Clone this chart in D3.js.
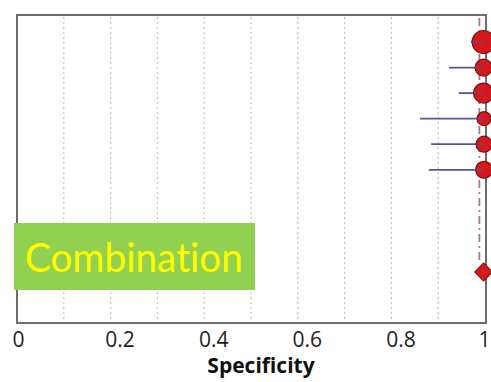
<!DOCTYPE html>
<html>
<head>
<meta charset="utf-8">
<script src="https://cdn.jsdelivr.net/npm/d3@7"></script>
<style>
  html, body { margin: 0; padding: 0; background: #fff; }
  svg { display: block; }
</style>
</head>
<body>
<svg id="chart" width="491" height="382"></svg>
<script>
// Study-level specificity estimates with 95% CI and study weight (%)
const studies = ["Study 1", "Study 2", "Study 3", "Study 4", "Study 5", "Study 6"];
const specificity = [0.997, 0.997, 0.997, 0.998, 0.998, 0.998];
const ciLower = [0.970, 0.923, 0.944, 0.861, 0.885, 0.880];
const ciUpper = [1.0, 1.0, 1.0, 1.0, 1.0, 1.0];
const weights = [27.0, 14.7, 20.4, 10.0, 13.1, 14.7];

// Pooled estimate and reference line
const pooledSpecificity = 0.997;
const summaryLine = 0.988;
const pooledRow = 9;

const xTicks = [0, 0.2, 0.4, 0.6, 0.8, 1];
const gridValues = [0.1, 0.2, 0.3, 0.4, 0.5, 0.6, 0.7, 0.8, 0.9];
const xTitle = "Specificity";
const panelLabel = "Combination";

const svg = d3.select("#chart");
const plot = { left: 17, right: 486, top: 15, bottom: 323 };

const x = d3.scaleLinear().domain([0, 1]).range([17, 485]);
const y = d3.scaleLinear().domain([0, pooledRow]).range([42, 272]);
const r = d3.scaleSqrt().domain([0, 27]).range([0, 11.5]);

// Dotted vertical gridlines
svg.append("g")
  .selectAll("line")
  .data(gridValues)
  .join("line")
  .attr("x1", d => x(d)).attr("x2", d => x(d))
  .attr("y1", plot.top + 2).attr("y2", plot.bottom - 2)
  .attr("stroke", "#c4c4c4")
  .attr("stroke-width", 1.2)
  .attr("stroke-dasharray", "2,3");

// Plot frame
svg.append("rect")
  .attr("x", plot.left).attr("y", plot.top)
  .attr("width", plot.right - plot.left)
  .attr("height", plot.bottom - plot.top)
  .attr("fill", "none")
  .attr("stroke", "#6e6e6e")
  .attr("stroke-width", 2);

// Pooled reference line (dash-dot)
svg.append("line")
  .attr("x1", x(summaryLine)).attr("x2", x(summaryLine))
  .attr("y1", plot.top + 3).attr("y2", y(pooledRow) - 9)
  .attr("stroke", "#a07a98")
  .attr("stroke-width", 1.8)
  .attr("stroke-dasharray", "8,4,2,4");

// Confidence intervals
svg.append("g")
  .selectAll("line")
  .data(studies)
  .join("line")
  .attr("x1", (d, i) => x(ciLower[i]))
  .attr("x2", (d, i) => x(ciUpper[i]))
  .attr("y1", (d, i) => y(i))
  .attr("y2", (d, i) => y(i))
  .attr("stroke", "#55559a")
  .attr("stroke-width", 1.8);

// Point estimates sized by weight
svg.append("g")
  .selectAll("circle")
  .data(studies)
  .join("circle")
  .attr("cx", (d, i) => x(specificity[i]))
  .attr("cy", (d, i) => y(i))
  .attr("r", (d, i) => r(weights[i]))
  .attr("fill", "#d3191c")
  .attr("stroke", "#7a1010")
  .attr("stroke-width", 1.2);

// CI segments drawn again over the circles
svg.append("g")
  .selectAll("line")
  .data(studies)
  .join("line")
  .attr("x1", (d, i) => Math.max(x(ciLower[i]), x(specificity[i]) - r(weights[i])))
  .attr("x2", (d, i) => x(specificity[i]))
  .attr("y1", (d, i) => y(i))
  .attr("y2", (d, i) => y(i))
  .attr("stroke", "#55559a")
  .attr("stroke-opacity", 0.7)
  .attr("stroke-width", 1.6);

// Pooled diamond (square rotated 45 degrees)
svg.append("path")
  .attr("d", d3.symbol(d3.symbolSquare, 160)())
  .attr("transform", `translate(${x(pooledSpecificity)},${y(pooledRow)}) rotate(45)`)
  .attr("fill", "#d3191c")
  .attr("stroke", "#8a1010")
  .attr("stroke-width", 1);

// X axis labels
const axis = d3.axisBottom(x)
  .tickValues(xTicks)
  .tickFormat(d3.format("~g"))
  .tickSize(0)
  .tickPadding(0);

const axisG = svg.append("g")
  .attr("transform", `translate(0,${plot.bottom})`)
  .call(axis);
axisG.select(".domain").remove();
axisG.selectAll("text")
  .attr("y", 24)
  .attr("dy", 0)
  .attr("dx", d => (d > 0 && d < 1) ? 9 : (d === 1 ? -1 : 1))
  .attr("fill", "#1e1e1e")
  .style("font-family", "'Open Sans', sans-serif")
  .style("font-size", "21px");

// Axis title
svg.append("text")
  .attr("x", 261).attr("y", 373)
  .attr("text-anchor", "middle")
  .attr("fill", "#111")
  .style("font-family", "'Open Sans', sans-serif")
  .style("font-weight", "bold")
  .style("font-size", "21px")
  .text(xTitle);

// Panel label
svg.append("rect")
  .attr("x", 14).attr("y", 223)
  .attr("width", 241).attr("height", 67)
  .attr("fill", "#92d050");
svg.append("text")
  .attr("x", 25).attr("y", 272)
  .attr("fill", "#ffff00")
  .attr("textLength", 218)
  .attr("lengthAdjust", "spacingAndGlyphs")
  .style("font-family", "Lato, sans-serif")
  .style("font-variant-ligatures", "none")
  .style("font-size", "40px")
  .text(panelLabel);
</script>
</body>
</html>
